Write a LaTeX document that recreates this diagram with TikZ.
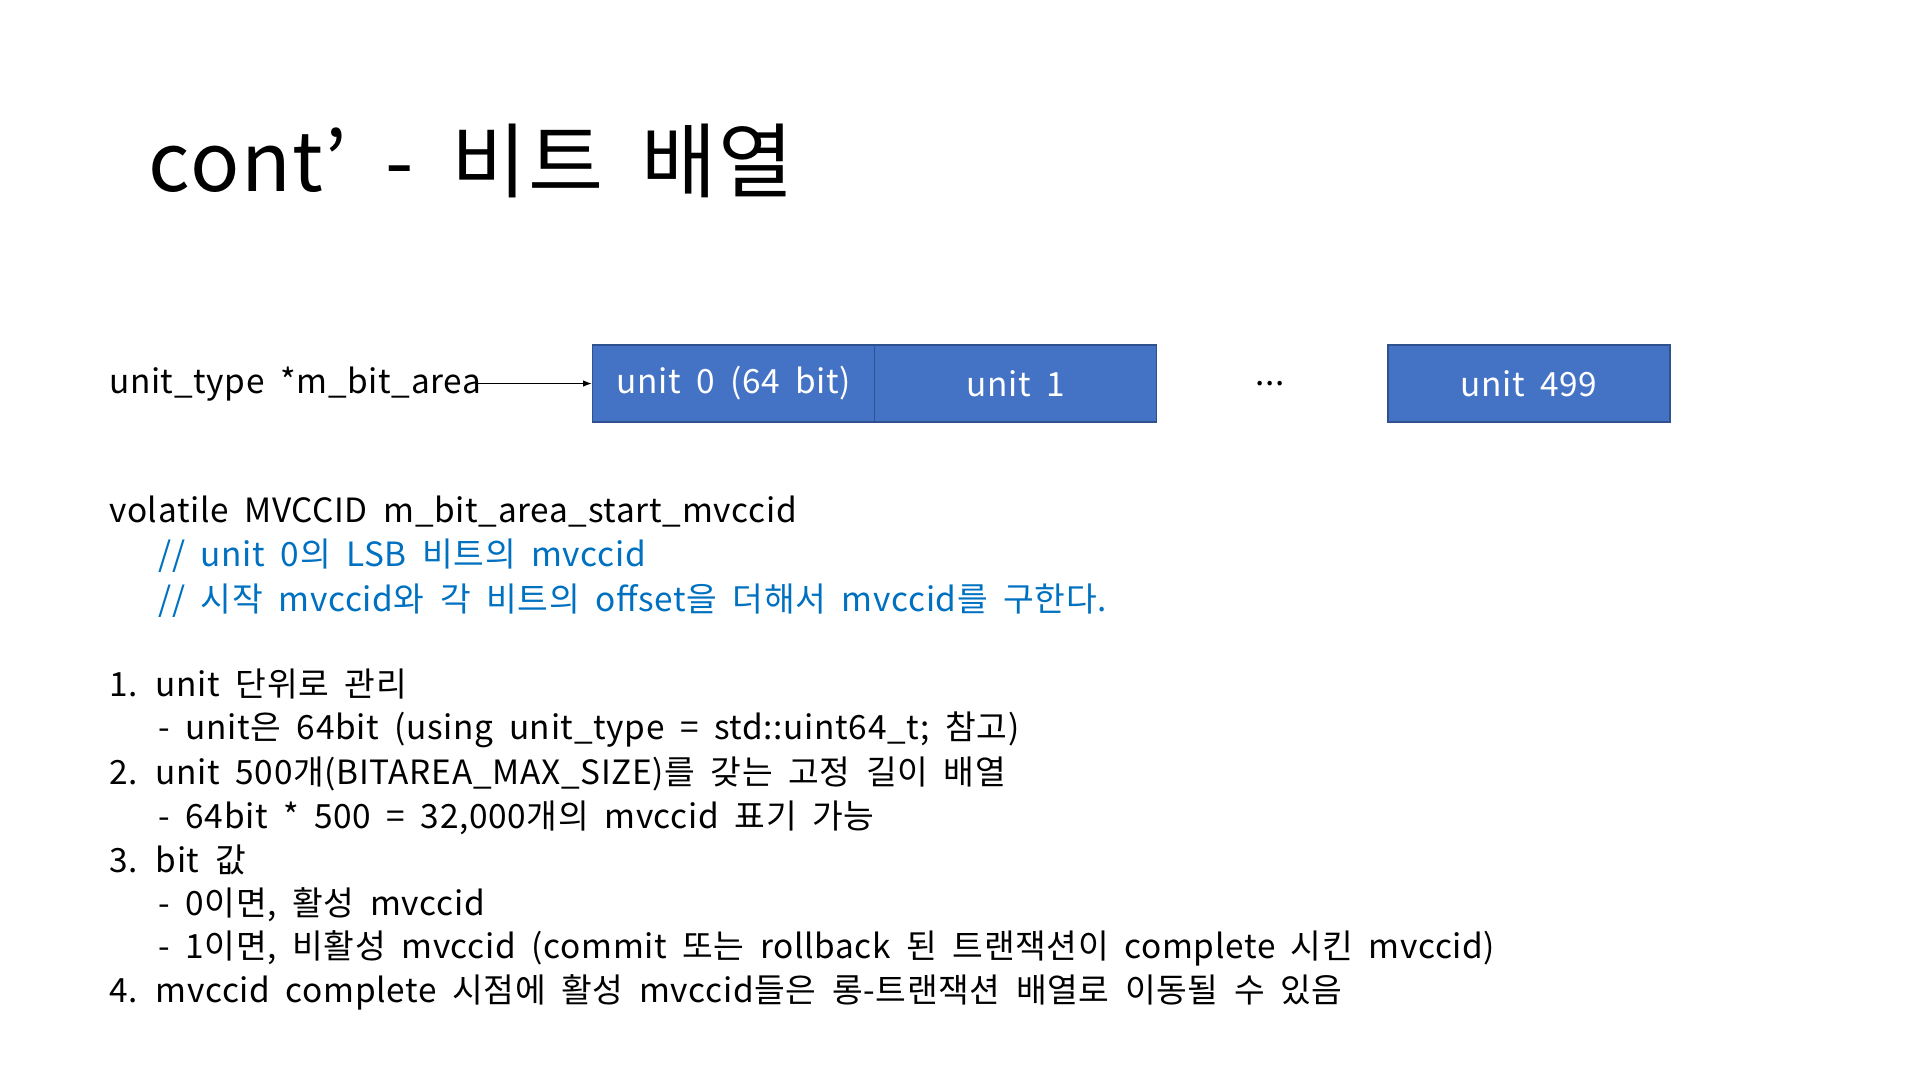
\documentclass[tikz,border=0pt]{standalone}
\usepackage{fontspec}
\usetikzlibrary{arrows.meta}
\setmainfont{Noto Sans CJK KR}[LetterSpace=2,WordSpace=1.9]
\definecolor{boxfill}{HTML}{4472C4}
\definecolor{boxline}{HTML}{2F528F}
\definecolor{cmt}{HTML}{0070C0}
\begin{document}
\begin{tikzpicture}[x=1pt,y=-1pt,
  txt/.style={anchor=base west,inner sep=0pt,font=\fontsize{27}{30}\selectfont},
  ctxt/.style={txt,text=cmt},
  unitbox/.style={draw=boxline,line width=1.2pt,fill=boxfill,text=white,minimum width=228pt,minimum height=62pt,inner sep=0pt,font=\fontsize{27}{30}\selectfont}]
\useasboundingbox (0,0) rectangle (1552,873);
\node[txt,font=\fontsize{66}{70}\selectfont] (title) at (120,155) {cont\char"27\ - 비트 배열};
\node[unitbox] (u0) at (593,310) {unit 0 (64 bit)};
\node[unitbox] (u1) at (821,310) {unit 1};
\node[inner sep=0pt,font=\fontsize{27}{30}\selectfont] (dots) at (1027,310) {...};
\node[unitbox] (u499) at (1236,310) {unit 499};
\node[txt] (ptr) at (88,318) {unit\_type *m\_bit\_area};
\coordinate (as) at (386,310);
\draw[-{Latex[length=7pt]},line width=1pt] (as) -- (u0.west);
\node[txt] (l1) at (88,422) {volatile MVCCID m\_bit\_area\_start\_mvccid};
\node[ctxt] (l2) at (128,458) {// unit 0의 LSB 비트의 mvccid};
\node[ctxt] (l3) at (128,494) {// 시작 mvccid와 각 비트의 offset을 더해서 mvccid를 구한다.};
\node[txt] (l4) at (88,563) {1. unit 단위로 관리};
\node[txt] (l5) at (128,598) {- unit은 64bit (using unit\_type = std::uint64\_t; 참고)};
\node[txt] (l6) at (88,634) {2. unit 500개(BITAREA\_MAX\_SIZE)를 갖는 고정 길이 배열};
\node[txt] (l7) at (128,670) {- 64bit * 500 = 32,000개의 mvccid 표기 가능};
\node[txt] (l8) at (88,705) {3. bit 값};
\node[txt] (l9) at (128,740) {- 0이면, 활성 mvccid};
\node[txt] (l10) at (128,775) {- 1이면, 비활성 mvccid (commit 또는 rollback 된 트랜잭션이 complete 시킨 mvccid)};
\node[txt] (l11) at (88,810) {4. mvccid complete 시점에 활성 mvccid들은 롱-트랜잭션 배열로 이동될 수 있음};
\end{tikzpicture}
\end{document}
